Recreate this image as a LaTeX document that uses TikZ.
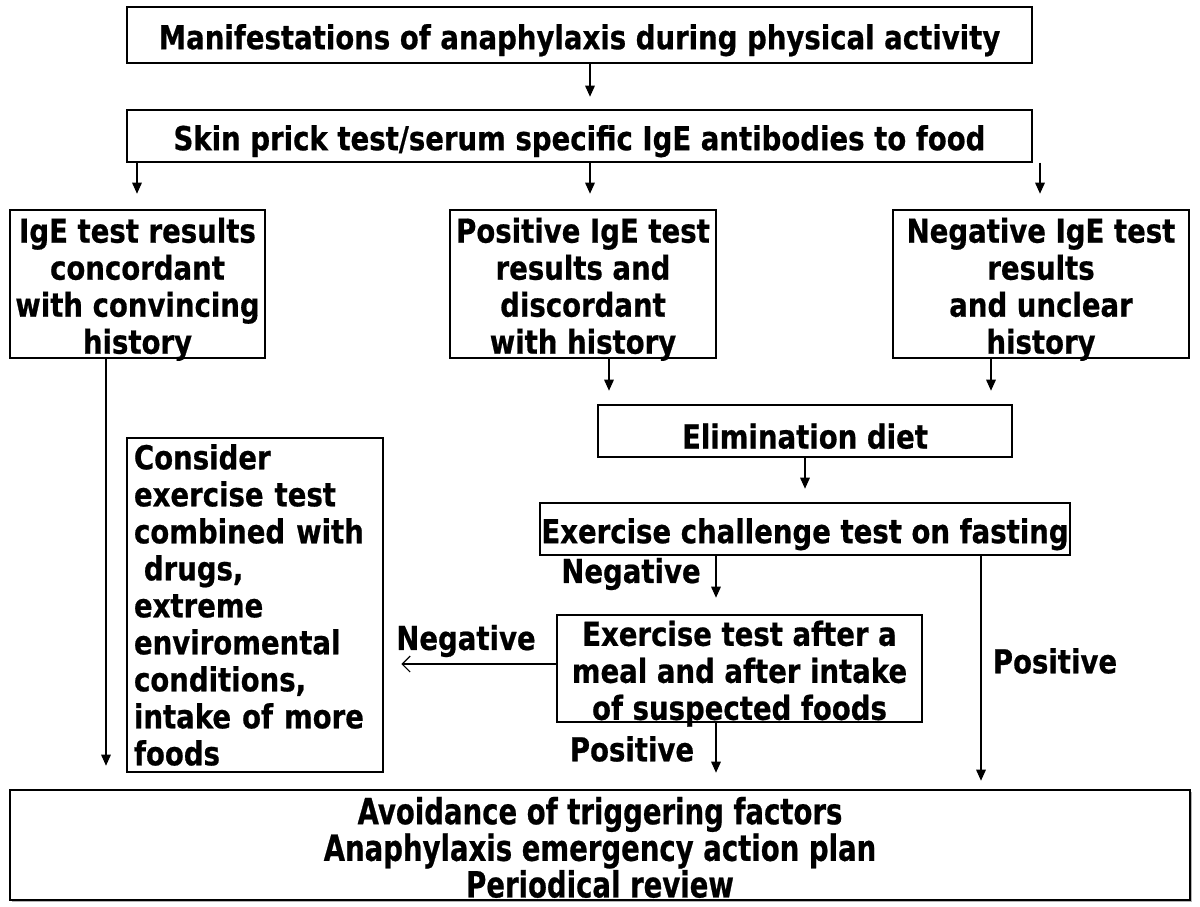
\documentclass[tikz,border=0pt]{standalone}
\usepackage{fontspec}
\setmainfont{DejaVu Sans}[FakeStretch=0.835, BoldFeatures={FakeBold=0.6}]
\newfontfamily\condfont{DejaVu Sans}[FakeStretch=0.765, BoldFeatures={FakeBold=0.6}]
\usetikzlibrary{arrows.meta,shadows}
\begin{document}
\begin{tikzpicture}[x=0.5pt,y=-0.5pt,
  font=\fontsize{16.5}{18.5}\selectfont\bfseries,
  box/.style={draw, line width=0.7pt, inner sep=0pt},
  txt/.style={label={[yshift=-2.6pt, align=center, inner sep=0pt]center:#1}},
  arr/.style={-{Triangle[width=4.8pt,length=5.5pt]}, line width=0.6pt},
  openarr/.style={-{Straight Barb[width=8pt,length=4pt]}, line width=0.6pt},
  lbl/.style={inner sep=0pt}]
\useasboundingbox (0,0) rectangle (1200,906);
\node[box, minimum width=452.5pt, minimum height=28pt, txt={Manifestations of anaphylaxis during physical activity}] (b1) at (579.5,35) {};
\node[box, minimum width=452.5pt, minimum height=26pt, txt={Skin prick test/serum specific IgE antibodies to food}] (b2) at (579.5,136) {};
\node[box, minimum width=127.5pt, minimum height=74pt, txt={IgE test results\\concordant\\with convincing\\history}] (b3) at (137.5,284) {};
\node[box, minimum width=133pt, minimum height=74pt, txt={Positive IgE test\\results and\\discordant\\with history}] (b4) at (583,284) {};
\node[box, minimum width=148pt, minimum height=74pt, txt={Negative IgE test\\results\\and unclear\\history}] (b5) at (1041,284) {};
\node[box, minimum width=207pt, minimum height=26pt, txt={Elimination diet}] (elim) at (805,431) {};
\node[box, minimum width=265pt, minimum height=26pt, txt={Exercise challenge test on fasting}] (chal) at (805,529) {};
\node[box, minimum width=182.5pt, minimum height=53.5pt, txt={Exercise test after a\\meal and after intake\\of suspected foods}] (meal) at (739.5,668.5) {};
\node[box, minimum width=128pt, minimum height=167pt, text width=121pt, align=left] (cons) at (255,605)
  {Consider\\exercise test\\combined with\\\hspace{0.3em}drugs,\\extreme\\enviromental\\conditions,\\intake of more\\foods};
\node[box, minimum width=590pt, minimum height=55pt, fill=white,
  drop shadow={shadow xshift=1pt, shadow yshift=-1pt, opacity=0.6},
  label={[yshift=-1.2pt, align=center, inner sep=0pt, font=\fontsize{18}{18.3}\selectfont\condfont\bfseries]center:Avoidance of triggering factors\\Anaphylaxis emergency action plan\\Periodical review}] (fin) at (600,845) {};

\coordinate (x106) at (106,0);
\coordinate (x137) at (137,0);
\coordinate (x590) at (590,0);
\coordinate (x1040) at (1040,0);
\coordinate (x609) at (609,0);
\coordinate (x991) at (991,0);
\coordinate (x805) at (805,0);
\coordinate (x716) at (716,0);
\coordinate (x981) at (981,0);
\coordinate (y664) at (0,664);

\draw[arr] (x590 |- b1.south) -- ++(0,33);
\draw[arr] (x137 |- b2.south) -- ++(0,31);
\draw[arr] (x590 |- b2.south) -- ++(0,31);
\draw[arr] (x1040 |- b2.south) -- ++(0,31);
\draw[arr] (x609 |- b4.south) -- ++(0,32);
\draw[arr] (x991 |- b5.south) -- ++(0,32);
\draw[arr] (x805 |- elim.south) -- ++(0,31);
\draw[arr] (x716 |- chal.south) -- ++(0,42);
\draw[arr] (x981 |- chal.south) -- ++(0,225);
\draw[openarr] (meal.west |- y664) -- ++(-155,0);
\draw[arr] (x716 |- meal.south) -- ++(0,50);
\draw[arr] (x106 |- b3.south) -- ++(0,407);

\node[lbl] (nneg1) at (631,574) {Negative};
\node[lbl] (npos1) at (1055,661) {Positive};
\node[lbl] (nneg2) at (466,641) {Negative};
\node[lbl] (npos2) at (632,749) {Positive};
\end{tikzpicture}
\end{document}
